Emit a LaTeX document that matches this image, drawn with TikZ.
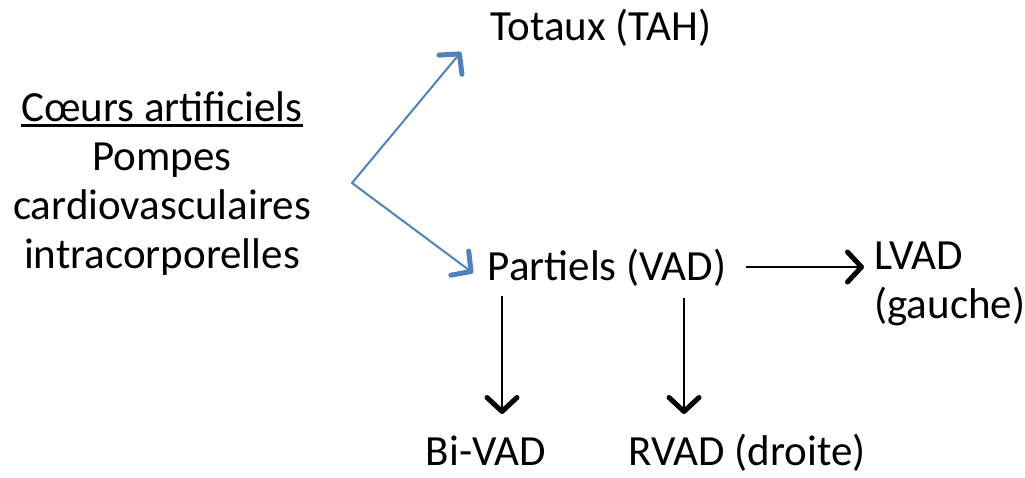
\documentclass[tikz,border=0pt]{standalone}
\usepackage{fontspec}
\setmainfont{Carlito}
\usetikzlibrary{arrows.meta}
\definecolor{linkblue}{HTML}{4F81BD}
% underline with a heavier rule than \underline gives at this size
\newcommand\heavyul[1]{\leavevmode\vtop{\hbox{#1}\kern3pt\hrule height 2.4pt}}
\begin{document}
\begin{tikzpicture}[x=1pt,y=-1pt,
  label/.style={font=\fontsize{43}{49}\selectfont, inner sep=0pt, anchor=base},
  bluearrow/.style={draw=linkblue, line width=2pt, line cap=round,
    -{Straight Barb[length=14pt,width=30pt,line width=5pt,round]}},
  blackarrow/.style={draw=black, line width=2pt,
    -{Straight Barb[length=14pt,width=30pt,line width=5pt,round]}}]
\useasboundingbox (0,0) rectangle (1025,477);

% labels (multi-line nodes are anchored on their last baseline)
\node[label, align=center] (root) at (162,268)
  {\heavyul{Cœurs artificiels}\\Pompes\\cardiovasculaires\\intracorporelles};
\node[label] (tah) at (601,40) {Totaux (TAH)};
\node[label] (vad) at (607,280) {Partiels (VAD)};
\node[label, align=left, anchor=base west] (lvad) at (874,318) {LVAD\\(gauche)};
\node[label] (bivad) at (486,465) {Bi-VAD};
\node[label] (rvad) at (747,465) {RVAD (droite)};

% connector end points
\coordinate (hub) at (352,183);
\coordinate (tahin) at (461,52);
\coordinate (vadin) at (473,273);
\coordinate (vadout) at (746,267);
\coordinate (lvadin) at (864,267);
\coordinate (bivadout) at (502,296);
\coordinate (bivadin) at (502,414);
\coordinate (rvadout) at (684,298);
\coordinate (rvadin) at (684,414);

% connectors
\draw[bluearrow] (hub) -- (tahin);
\draw[bluearrow] (hub) -- (vadin);
\draw[blackarrow] (vadout) -- (lvadin);
\draw[blackarrow] (bivadout) -- (bivadin);
\draw[blackarrow] (rvadout) -- (rvadin);
\end{tikzpicture}
\end{document}
